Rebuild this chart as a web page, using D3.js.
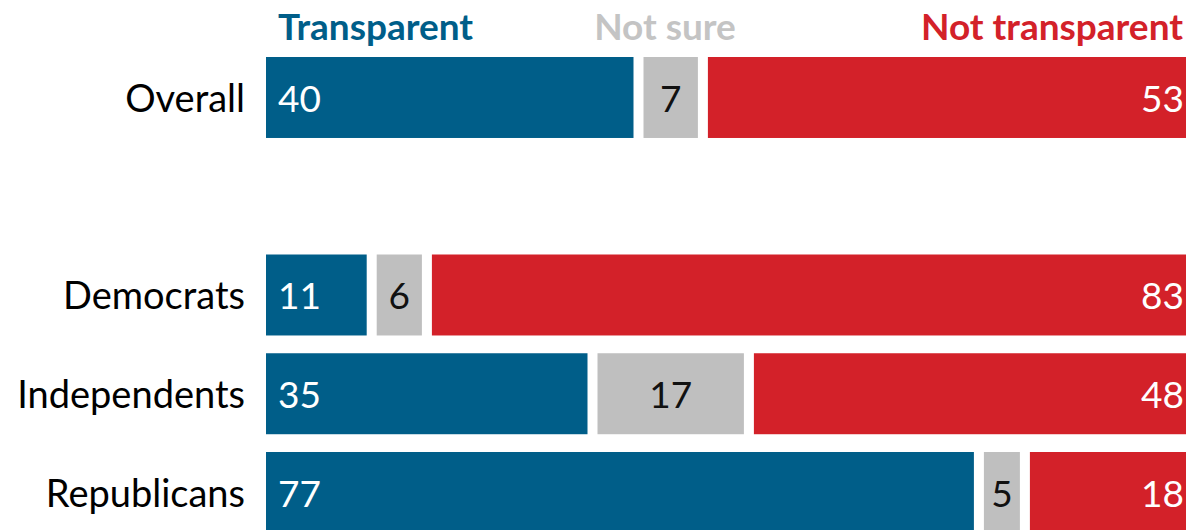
<!DOCTYPE html>
<html>
<head>
<meta charset="utf-8">
<script src="https://cdn.jsdelivr.net/npm/d3@7"></script>
<style>
  body { margin: 0; background: #fff; }
  svg { display: block; font-family: Lato, 'Open Sans', sans-serif; }
</style>
</head>
<body>
<svg id="chart" width="1186" height="530"></svg>
<script>
// Rows (the empty one is the spacer between Overall and the party rows)
var rows = ['Overall', '', 'Democrats', 'Independents', 'Republicans']
var transparent = [40, null, 11, 35, 77]
var notSure = [7, null, 6, 17, 5]
var notTransparent = [53, null, 83, 48, 18]

var seriesNames = ['Transparent', 'Not sure', 'Not transparent']
var colours = ['#005e89', '#bfbfbf', '#d32129']
var headerColours = ['#005e89', '#c4c4c4', '#d32129']

var svg = d3.select('#chart')
var left = 266, right = 1186, gap = 9.5

// Scales
var x = d3.scaleLinear().domain([0, 100]).range([left, right])
var step = 98.75
var y = d3.scaleBand()
  .domain(rows)
  .range([57 - 0.09 * step, 57 - 0.09 * step + 5 * step])
  .paddingInner(0.18)
  .paddingOuter(0.09)

// Build stacked data
var data = rows.map(function(r, i) {
  return {row: r, values: [transparent[i], notSure[i], notTransparent[i]]}
}).filter(function(d) { return d.row !== '' })

var g = svg.append('g')

data.forEach(function(d) {
  var cum = 0
  d.values.forEach(function(v, j) {
    var x0 = x(cum) + (j > 0 ? gap : 0)
    var x1 = x(cum + v) - (j < 2 ? 0.5 : 0)
    cum += v
    g.append('rect')
      .attr('x', x0)
      .attr('y', y(d.row))
      .attr('width', Math.max(0, x1 - x0))
      .attr('height', y.bandwidth())
      .attr('fill', colours[j])

    var ty = y(d.row) + y.bandwidth() / 2
    var label = g.append('text')
      .attr('y', ty)
      .attr('dy', '0.38em')
      .attr('font-size', 37)
      .text(v)
    if (j === 0) {
      label.attr('x', x0 + 12).attr('fill', '#fff')
    } else if (j === 1) {
      label.attr('x', (x0 + x1) / 2).attr('text-anchor', 'middle').attr('fill', '#111')
    } else {
      label.attr('x', x1 - 2).attr('text-anchor', 'end').attr('fill', '#fff')
    }
  })

  // Category label
  g.append('text')
    .attr('x', left - 21)
    .attr('y', y(d.row) + y.bandwidth() / 2)
    .attr('dy', '0.38em')
    .attr('text-anchor', 'end')
    .attr('font-size', 38)
    .attr('fill', '#000')
    .text(d.row)
})

// Column headers
var headerX = [left + 12, 665, right - 3]
var anchors = ['start', 'middle', 'end']
seriesNames.forEach(function(name, j) {
  svg.append('text')
    .attr('x', headerX[j])
    .attr('y', 40)
    .attr('text-anchor', anchors[j])
    .attr('font-size', 37)
    .attr('font-weight', 'bold')
    .attr('fill', headerColours[j])
    .text(name)
})
</script>
</body>
</html>
